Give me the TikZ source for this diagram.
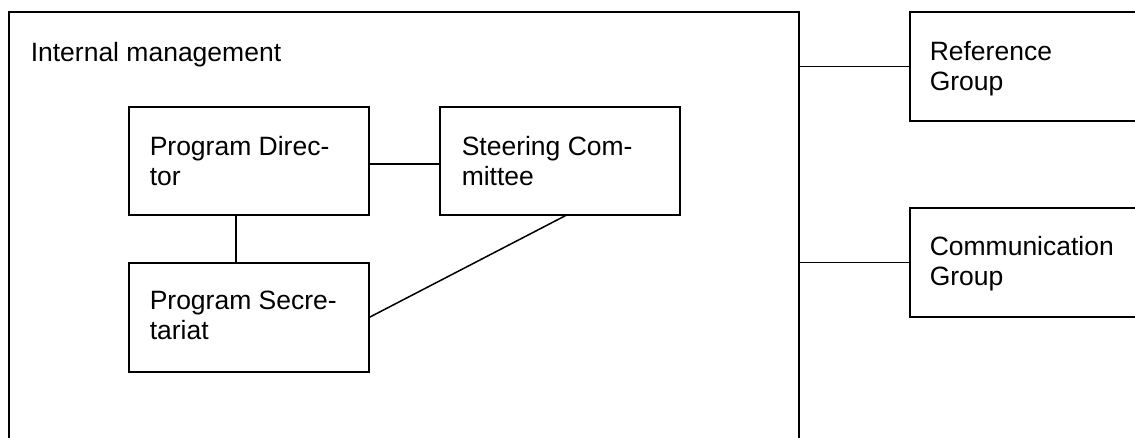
\documentclass[tikz,border=0pt]{standalone}
\usepackage{fontspec}
\setmainfont{Liberation Sans}
\begin{document}
\begin{tikzpicture}[x=1pt,y=-1pt,
  line width=1.5pt,
  box/.style={draw=black, rectangle, inner sep=0pt, anchor=north west,
              minimum width=#1},
  box/.default=240pt,
  txt/.style={anchor=base west, align=left, inner sep=0pt,
              font=\fontsize{26.5pt}{30pt}\selectfont},
  link/.style={draw=black, line width=1.5pt}]
\useasboundingbox (0,0) rectangle (1135,437);
\clip (0,0) rectangle (1135,437);

% enclosing frame of the internal management
\node[box=790pt, minimum height=480pt] (im) at (8,11) {};
\node[txt] (imt) at (30,61) {Internal management};

% inner bodies (the base anchor of a two-line label sits on its last line)
\node[box, minimum height=108pt] (pd) at (128,106) {};
\node[txt] (pdt) at ([xshift=21pt,yshift=-79pt]pd.north west) {Program Direc-\\tor};

\node[box, minimum height=108pt] (sc) at (439,106) {};
\node[txt] (sct) at ([xshift=22pt,yshift=-79pt]sc.north west) {Steering Com-\\mittee};

\node[box, minimum height=109pt] (ps) at (128,262) {};
\node[txt] (pst) at ([xshift=21pt,yshift=-77pt]ps.north west) {Program Secre-\\tariat};

% outside groups
\node[box=300pt, minimum height=109pt] (rg) at (909,11) {};
\node[txt] (rgt) at ([xshift=20pt,yshift=-79pt]rg.north west) {Reference\\Group};

\node[box=300pt, minimum height=109pt] (cg) at (909,207) {};
\node[txt] (cgt) at ([xshift=20pt,yshift=-78pt]cg.north west) {Communication\\Group};

% connectors
\draw[link] ([yshift=-3pt]pd.east) -- ([yshift=-3pt]sc.west);
\draw[link] ([xshift=-13pt]pd.south) -- ([xshift=-13pt]ps.north);
\draw[link] ([xshift=6pt]sc.south) -- (ps.east);
\draw[link] (rg.west) -- (rg.west -| im.east);
\draw[link] (cg.west) -- (cg.west -| im.east);
\end{tikzpicture}
\end{document}
